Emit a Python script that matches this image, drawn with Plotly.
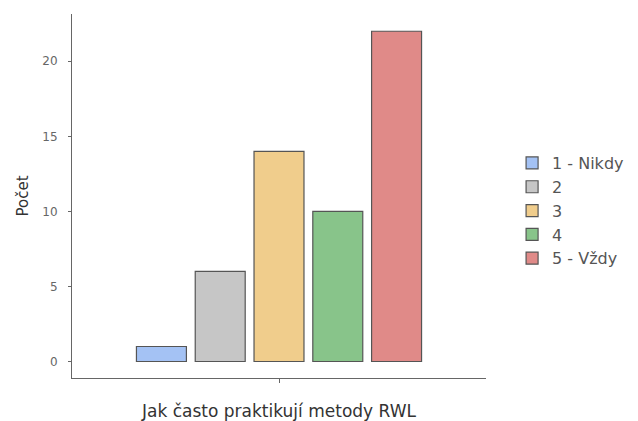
import plotly.graph_objects as go

categories = ["1 - Nikdy", "2", "3", "4", "5 - Vždy"]
values = [1, 6, 14, 10, 22]
colors = ["#a4c2f4", "#c6c6c6", "#f0cd8c", "#88c48a", "#e08a88"]
group = ["Jak často praktikují metody RWL"]

fig = go.Figure()
for name, v, c in zip(categories, values, colors):
    fig.add_trace(go.Bar(
        x=group, y=[v], name=name,
        marker=dict(color=c, line=dict(color="#555555", width=1.2)),
    ))

# page body has an 8px default margin, so the figure is shifted by 8px
fig.update_layout(
    width=622, height=413,
    margin=dict(l=64, r=144, t=6, b=43, autoexpand=False),
    paper_bgcolor="white", plot_bgcolor="white",
    barmode="group", bargap=0.29, bargroupgap=0.15,
    font=dict(family="DejaVu Sans, Verdana, sans-serif", size=12, color="#444444"),
    showlegend=True,
    legend=dict(x=1.063, y=0.46, xanchor="left", yanchor="middle",
                font=dict(size=16, color="#555555"), tracegroupgap=0,
                itemwidth=30, bgcolor="rgba(0,0,0,0)"),
)
fig.update_xaxes(
    automargin=False,
    showline=True, linecolor="#666666", linewidth=1,
    ticks="outside", ticklen=4, tickcolor="#666666",
    showticklabels=False, showgrid=False, zeroline=False,
    title=dict(text=group[0], font=dict(size=17, color="#333333"), standoff=28),
)
fig.update_yaxes(
    automargin=False,
    range=[-1.1, 23.15], tickvals=[0, 5, 10, 15, 20],
    showline=True, linecolor="#666666", linewidth=1,
    ticks="outside", ticklen=3, tickcolor="#666666",
    showgrid=False, zeroline=False,
    tickfont=dict(size=12, color="#666666"),
    ticklabelstandoff=8,
    title=dict(text="Počet", font=dict(size=15, color="#333333"), standoff=10),
)

fig.write_html("out.html")
